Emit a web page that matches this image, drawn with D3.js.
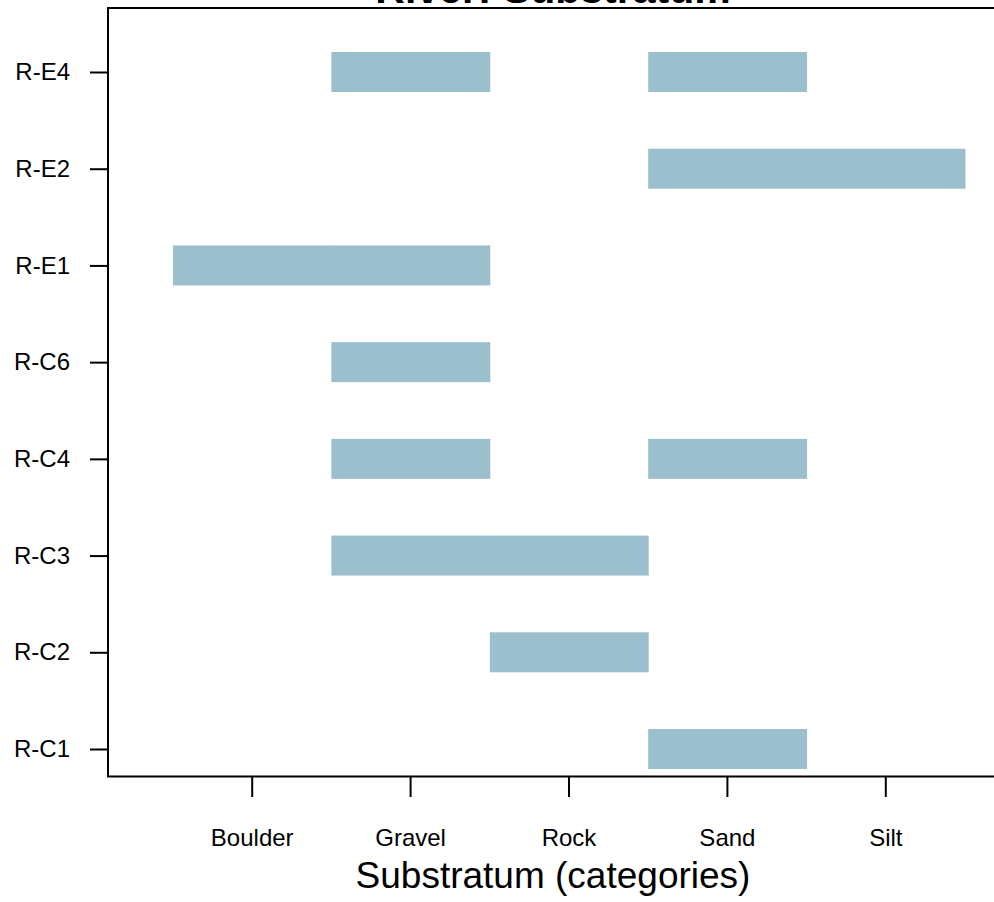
<!DOCTYPE html>
<html>
<head>
<meta charset="utf-8">
<script src="https://cdn.jsdelivr.net/npm/d3@7"></script>
<style>
  body { margin: 0; background: #fff; }
  text { font-family: "Liberation Sans", Arial, sans-serif; }
</style>
</head>
<body>
<svg id="chart" width="994" height="902"></svg>
<script>
  // substratum categories on the x axis
  var substrata = ["Boulder", "Gravel", "Rock", "Sand", "Silt"];
  // sites, bottom to top
  var sites = ["R-C1", "R-C2", "R-C3", "R-C4", "R-C6", "R-E1", "R-E2", "R-E4"];
  // substratum found at each site
  var siteSubstrata = [
    ["Sand"],
    ["Rock"],
    ["Gravel", "Rock"],
    ["Gravel", "Sand"],
    ["Gravel"],
    ["Boulder", "Gravel"],
    ["Sand", "Silt"],
    ["Gravel", "Sand"]
  ];

  var svg = d3.select("#chart");

  var x = d3.scaleBand()
      .domain(substrata)
      .range([173, 965])
      .padding(0);

  var y = d3.scalePoint()
      .domain(sites)
      .range([749, 72]);

  var barH = 40;

  var cells = [];
  sites.forEach(function(s, i) {
    siteSubstrata[i].forEach(function(c) {
      cells.push({ site: s, sub: c });
    });
  });

  // bars
  svg.append("g")
    .selectAll("rect")
    .data(cells)
    .enter().append("rect")
      .attr("x", function(d) { return x(d.sub); })
      .attr("width", x.bandwidth() + 0.5)
      .attr("y", function(d) { return y(d.site) - barH / 2; })
      .attr("height", barH)
      .attr("fill", "#9bbfcd");

  // frame (left, top, bottom)
  svg.append("path")
      .attr("d", "M1000,8H108V776.5H1000")
      .attr("fill", "none")
      .attr("stroke", "#000")
      .attr("stroke-width", 2);

  // x axis
  var xAxis = svg.append("g")
      .attr("transform", "translate(0,777)")
      .call(d3.axisBottom(x).tickSize(20).tickPadding(32));
  xAxis.select(".domain").remove();
  xAxis.selectAll("line").attr("stroke", "#000").attr("stroke-width", 2);
  xAxis.selectAll("text")
      .attr("font-size", 24)
      .attr("fill", "#000")
      .attr("font-family", "Liberation Sans, Arial, sans-serif");

  // y axis
  var yAxis = svg.append("g")
      .attr("transform", "translate(108,0)")
      .call(d3.axisLeft(y).tickSize(18).tickPadding(20));
  yAxis.select(".domain").remove();
  yAxis.selectAll("line").attr("stroke", "#000").attr("stroke-width", 2);
  yAxis.selectAll("text")
      .attr("font-size", 24)
      .attr("fill", "#000")
      .attr("font-family", "Liberation Sans, Arial, sans-serif");

  // axis title
  svg.append("text")
      .attr("x", 553)
      .attr("y", 888)
      .attr("text-anchor", "middle")
      .attr("font-size", 37)
      .attr("fill", "#000")
      .text("Substratum (categories)");

  // title, cut off at the top as in the original
  svg.append("text")
      .attr("x", 553)
      .attr("y", 3)
      .attr("text-anchor", "middle")
      .attr("font-size", 41)
      .attr("font-weight", "bold")
      .attr("fill", "#000")
      .text("River: Substratum");
</script>
</body>
</html>
